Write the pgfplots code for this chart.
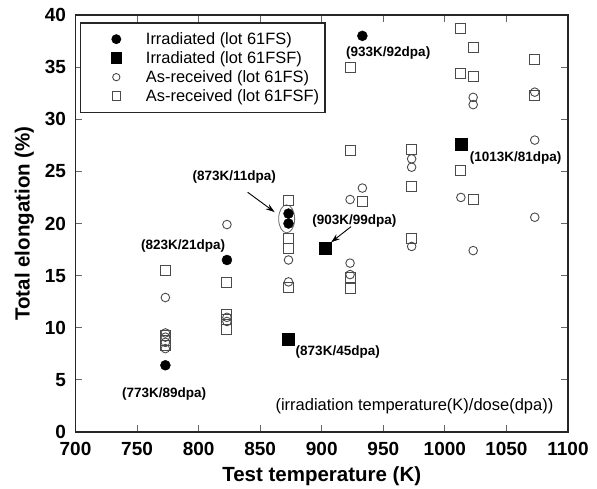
\documentclass[border=0pt]{standalone}
\usepackage{fontspec}
\setmainfont{Liberation Sans}
\usepackage{pgfplots}
\pgfplotsset{compat=1.18}
\usetikzlibrary{arrows.meta}
\definecolor{opn}{HTML}{4A4A4A}
\begin{document}
\begin{tikzpicture}
\begin{axis}[
  scale only axis, width=492.5pt, height=417pt,
  xmin=700, xmax=1100, ymin=0, ymax=40,
  xtick distance=50, ytick distance=5,
  tick pos=both, tick align=inside, major tick length=7pt,
  major tick style={line width=0.8pt, black!60},
  axis line style={line width=1.5pt, black!85},
  /pgf/number format/assume math mode=true,
  /pgf/number format/1000 sep={},
  tick label style={font=\fontsize{19}{19}\selectfont\bfseries},
  xticklabel style={yshift=-7pt},
  yticklabel style={xshift=-6pt},
  xlabel={Test temperature (K)}, ylabel={Total elongation (\%)},
  label style={font=\fontsize{20.5}{20.5}\selectfont\bfseries},
  xlabel style={at={(axis description cs:0.5,-0.106)}, anchor=center},
  ylabel style={at={(axis description cs:-0.104,0.5)}, anchor=center, rotate=0},
  legend cell align=left,
  legend style={at={(0.00914,0.9825)}, anchor=north west,
    draw=black!85, line width=1.3pt, inner xsep=0pt, inner ysep=6.7pt,
    row sep=0pt, font=\fontsize{16.4}{16.4}\selectfont,
    nodes={inner xsep=6pt, inner ysep=0pt, text height=15pt, text depth=4pt}},
  legend image code/.code={\path (-35pt,0pt) (23pt,0pt);
    \draw[#1, every mark/.append style={scale=0.85}] plot coordinates {(0pt,0pt)};},
]
% Irradiated (lot 61FS)
\addplot[only marks, mark=*, mark size=5pt, black] coordinates {
(773,6.4) (823,16.5) (873,20.95) (873,20.0) (933,38.0)};
\addlegendentry{Irradiated (lot 61FS)}
% Irradiated (lot 61FSF)
\addplot[only marks, mark=square*, mark size=6pt, black] coordinates {
(873,8.9) (903,17.6) (1013,27.6)};
\addlegendentry{Irradiated (lot 61FSF)}
% As-received (lot 61FS)
\addplot[only marks, mark=o, mark size=4.3pt, opn, line width=0.9pt] coordinates {
(773,12.9) (773,9.5) (773,9.1) (773,8.6) (773,8.0)
(823,19.9) (823,11.0) (823,10.6)
(873,16.5) (873,14.4)
(923,22.3) (923,16.2) (923,15.1)
(933,23.4)
(973,26.2) (973,25.4) (973,17.8)
(1013,22.5)
(1023,32.1) (1023,31.4) (1023,17.4)
(1073,32.6) (1073,28.0) (1073,20.6)};
\addlegendentry{As-received (lot 61FS)}
% As-received (lot 61FSF)
\addplot[only marks, mark=square, mark size=5pt, opn, line width=0.9pt] coordinates {
(773,15.5) (773,9.3) (773,8.8) (773,8.3)
(823,14.3) (823,11.3) (823,10.8) (823,9.8)
(873,22.2) (873,18.55) (873,17.6) (873,13.9)
(923,35.0) (923,27.0) (923,14.8) (923,13.8)
(933,22.1)
(973,27.1) (973,23.6) (973,18.6)
(1013,38.7) (1013,34.4) (1013,25.1)
(1023,36.9) (1023,34.1) (1023,22.3)
(1073,35.7) (1073,32.3)};
\addlegendentry{As-received (lot 61FSF)}

\begin{scope}[every node/.style={font=\fontsize{13.5}{13.5}\selectfont\bfseries}]
\node at (axis cs:772,3.6) {(773K/89dpa)};
\node at (axis cs:787.5,17.8) {(823K/21dpa)};
\node at (axis cs:829,24.45) {(873K/11dpa)};
\node at (axis cs:913,7.7) {(873K/45dpa)};
\node at (axis cs:926.5,20.2) {(903K/99dpa)};
\node at (axis cs:954,36.4) {(933K/92dpa)};
\node at (axis cs:1057.4,26.3) {(1013K/81dpa)};
\end{scope}
\node[anchor=east, font=\fontsize{16.5}{16.5}\selectfont] at (axis cs:1091,2.5)
  {(irradiation temperature(K)/dose(dpa))};
\draw[black!60, line width=0.8pt] (axis cs:871.5,20.45) ellipse [x radius=8pt, y radius=14pt];
\draw[line width=0.9pt, -{Stealth[length=9pt,width=6pt]}] (axis cs:839.8,23.0) -- (axis cs:861.7,21.1);
\draw[line width=0.9pt, -{Stealth[length=9pt,width=6pt]}] (axis cs:923.8,19.7) -- (axis cs:907.6,18.2);
\end{axis}
\pgfresetboundingbox
\path ([shift={(-75.5pt,-56pt)}]current axis.south west) rectangle ([shift={(29pt,15pt)}]current axis.north east);
\end{tikzpicture}
\end{document}
